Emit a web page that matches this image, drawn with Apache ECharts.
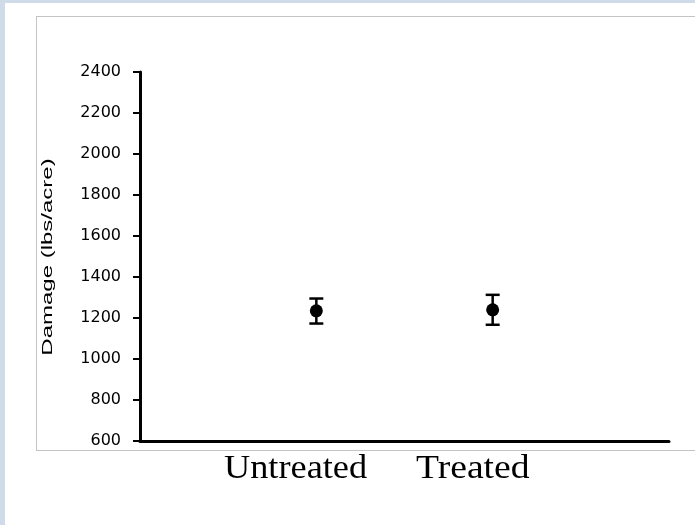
<!DOCTYPE html>
<html>
<head>
<meta charset="utf-8">
<script src="https://cdn.jsdelivr.net/npm/echarts@6/dist/echarts.min.js"></script>
<style>
  html, body { margin: 0; padding: 0; background: #cfdbe9; }
  #page { position: absolute; left: 5px; top: 3px; width: 690px; height: 522px; background: #ffffff; }
  #frame { position: absolute; left: 36px; top: 16px; width: 700px; height: 433px; border: 1px solid #c4c4c4; }
  #chart { position: absolute; left: 0; top: 0; width: 695px; height: 525px; }
</style>
</head>
<body>
<div id="page"></div>
<div id="frame"></div>
<div id="chart"></div>
<script>
// groups, one point each on a 0..3 axis
const groups = ["Untreated", "Treated"];
const groupPos = [1, 2];
const means = [1235, 1240];
const upper = [1295, 1313];
const lower = [1173, 1167];
const yTicks = [600, 800, 1000, 1200, 1400, 1600, 1800, 2000, 2200, 2400];

const chart = echarts.init(document.getElementById("chart"));

const errData = groupPos.map((x, i) => [x, lower[i], upper[i]]);
const dotData = groupPos.map((x, i) => [x, means[i]]);

const option = {
  animation: false,
  grid: { left: 140, right: 26, top: 72, bottom: 84 },
  xAxis: {
    type: "value",
    min: 0,
    max: 3,
    axisLine: { show: true, lineStyle: { color: "#000", width: 3 } },
    axisTick: { show: false },
    axisLabel: { show: false },
    splitLine: { show: false },
  },
  yAxis: {
    type: "value",
    min: yTicks[0],
    max: yTicks[yTicks.length - 1],
    interval: 200,
    axisLine: { show: true, lineStyle: { color: "#000", width: 3 } },
    axisTick: { show: true, length: 7, lineStyle: { color: "#000", width: 2 } },
    axisLabel: {
      color: "#000",
      fontFamily: "DejaVu Sans",
      fontSize: 16,
      margin: 19,
      formatter: (v) => String(v),
    },
    splitLine: { show: false },
  },
  series: [
    {
      type: "custom",
      data: errData,
      renderItem: (params, api) => {
        const top = api.coord([api.value(0), api.value(2)]);
        const bot = api.coord([api.value(0), api.value(1)]);
        const half = 7;
        const style = { stroke: "#000", lineWidth: 2.5 };
        return {
          type: "group",
          children: [
            { type: "line", shape: { x1: top[0], y1: top[1], x2: bot[0], y2: bot[1] }, style },
            { type: "line", shape: { x1: top[0] - half, y1: top[1], x2: top[0] + half, y2: top[1] }, style },
            { type: "line", shape: { x1: bot[0] - half, y1: bot[1], x2: bot[0] + half, y2: bot[1] }, style },
          ],
        };
      },
      z: 3,
    },
    {
      type: "scatter",
      data: dotData,
      symbol: "circle",
      symbolSize: 13,
      itemStyle: { color: "#000", opacity: 1 },
      z: 4,
    },
  ],
  graphic: [
    {
      type: "text",
      x: 55,
      y: 257,
      rotation: Math.PI / 2,
      scaleX: 1.6,
      style: {
        text: "Damage (lbs/acre)",
        font: "15px 'Liberation Sans', Arial, sans-serif",
        fill: "#000",
        align: "center",
        verticalAlign: "bottom",
      },
    },
    {
      type: "text",
      x: 224,
      y: 486,
      scaleX: 1.1,
      style: {
        text: groups[0],
        font: "33px 'Liberation Serif', 'Times New Roman', serif",
        fill: "#000",
        align: "left",
        verticalAlign: "bottom",
      },
    },
    {
      type: "text",
      x: 416,
      y: 486,
      scaleX: 1.14,
      style: {
        text: groups[1],
        font: "33px 'Liberation Serif', 'Times New Roman', serif",
        fill: "#000",
        align: "left",
        verticalAlign: "bottom",
      },
    },
  ],
};

chart.setOption(option);
</script>
</body>
</html>
